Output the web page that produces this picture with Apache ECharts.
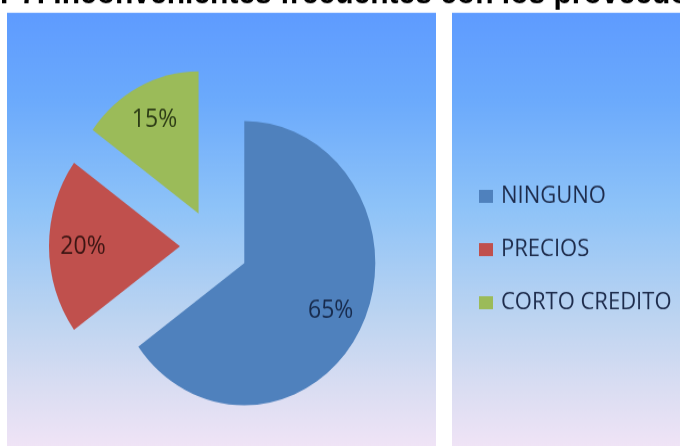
<!DOCTYPE html>
<html>
<head>
<meta charset="utf-8">
<script src="https://cdn.jsdelivr.net/npm/echarts@6/dist/echarts.min.js"></script>
<style>
  html, body { margin: 0; padding: 0; background: #ffffff; overflow: hidden; }
  #wrap { width: 680px; height: 446px; overflow: hidden; }
  /* the chart is laid out slightly shorter and stretched to full height */
  #chart { width: 680px; height: 411px; transform: scaleY(1.085); transform-origin: 0 0; }
</style>
</head>
<body>
<div id="wrap"><div id="chart"></div></div>
<script>
// Survey question P7: most frequent problems with suppliers (share of answers, %)
const categories = ['NINGUNO', 'PRECIOS', 'CORTO CREDITO'];
const shares = [65, 20, 15];
const sliceColors = ['#4F81BD', '#C0504D', '#9BBB59'];
const labelColors = ['#172A4C', '#3C1513', '#2C3B15'];
const titleText = 'P7. Inconvenientes frecuentes con los proveedores';

const chart = echarts.init(document.getElementById('chart'), null, { renderer: 'canvas' });

function panelFill() {
  return new echarts.graphic.LinearGradient(0, 0, 0, 1, [
    { offset: 0, color: '#5E9BFF' },
    { offset: 0.2, color: '#6BAAFC' },
    { offset: 0.45, color: '#8EC3F8' },
    { offset: 0.7, color: '#BCD4F1' },
    { offset: 0.86, color: '#D9DDF2' },
    { offset: 1, color: '#F0E4F6' }
  ]);
}

const pieCenter = [214, 227];
const explode = 34;

const sliceData = categories.map((name, i) => ({
  name: name,
  value: shares[i],
  selected: true,
  itemStyle: { color: sliceColors[i] }
}));

// a wider, invisible ring carries the percentage labels further out in each slice
const labelData = categories.map((name, i) => ({
  name: name,
  value: shares[i],
  selected: true,
  itemStyle: { color: 'rgba(0,0,0,0)' },
  label: { color: labelColors[i] }
}));

chart.setOption({
  animation: false,
  backgroundColor: '#ffffff',
  title: {
    text: titleText,
    left: 0,
    top: -20,
    padding: 0,
    textStyle: {
      fontFamily: 'Liberation Sans',
      fontSize: 30,
      fontWeight: 'bold',
      color: '#000000'
    }
  },
  graphic: [
    { type: 'rect', z: -10, silent: true, shape: { x: 7, y: 11.7, width: 429, height: 400 }, style: { fill: panelFill() } },
    { type: 'rect', z: -10, silent: true, shape: { x: 452, y: 11.7, width: 240, height: 400 }, style: { fill: panelFill() } }
  ],
  legend: {
    orient: 'vertical',
    left: 479,
    top: 170,
    padding: 0,
    itemWidth: 14,
    itemHeight: 12,
    itemGap: 27,
    icon: 'rect',
    selectedMode: false,
    data: categories,
    textStyle: {
      fontFamily: 'Open Sans',
      fontSize: 22,
      color: '#1D2B4B',
      padding: [0, 0, 0, 3]
    }
  },
  series: [
    {
      name: 'slices',
      type: 'pie',
      center: pieCenter,
      radius: [0, 131],
      startAngle: 90,
      clockwise: true,
      selectedMode: 'multiple',
      selectedOffset: explode,
      silent: true,
      label: { show: false },
      labelLine: { show: false },
      emphasis: { disabled: true },
      data: sliceData
    },
    {
      name: 'labels',
      type: 'pie',
      center: pieCenter,
      radius: [0, 188],
      startAngle: 90,
      clockwise: true,
      selectedMode: 'multiple',
      selectedOffset: explode,
      silent: true,
      legendHoverLink: false,
      label: {
        show: true,
        position: 'inside',
        rotate: 0,
        formatter: '{c}%',
        fontFamily: 'Open Sans',
        fontSize: 23
      },
      labelLine: { show: false },
      emphasis: { disabled: true },
      data: labelData
    }
  ]
});
</script>
</body>
</html>
